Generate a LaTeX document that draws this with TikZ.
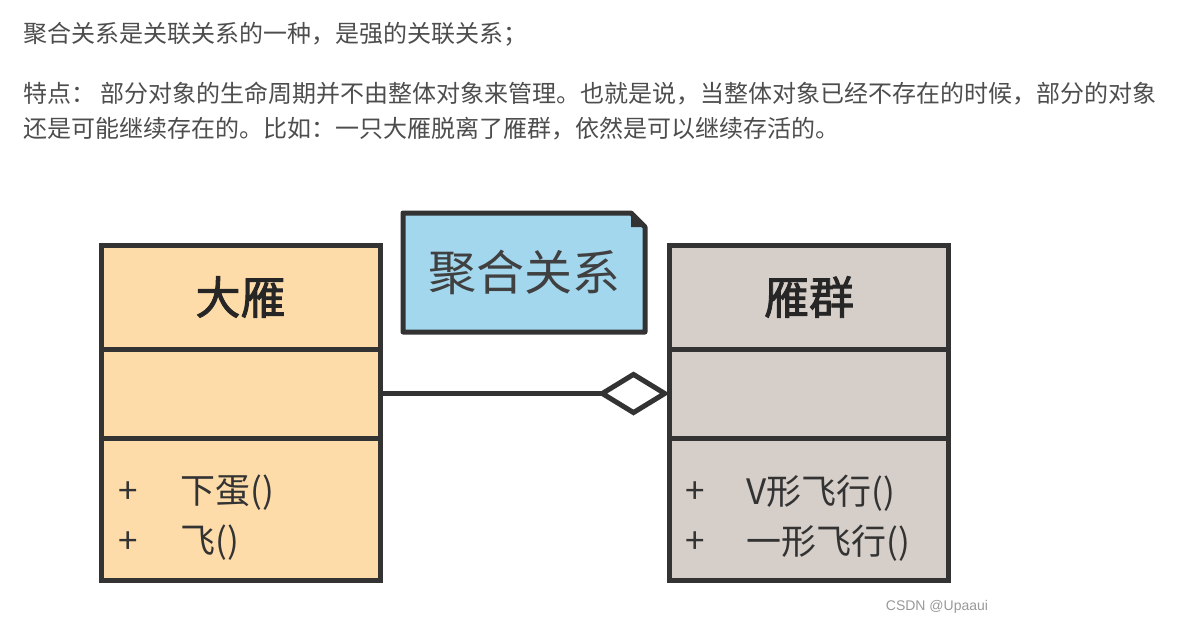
\documentclass[tikz,border=0pt]{standalone}
\usepackage{fontspec}
\newfontfamily\cjk{Noto Sans CJK SC}[AutoFakeBold=2]
\newfontfamily\wmfont{Liberation Sans}
\usetikzlibrary{positioning,arrows.meta}
\definecolor{goosefill}{HTML}{FEDCAA}
\definecolor{flockfill}{HTML}{D6CEC8}
\definecolor{notefill}{HTML}{A3D7EE}
\definecolor{umlline}{HTML}{333333}
\definecolor{bodytext}{HTML}{4D4D4D}
\begin{document}
\begin{tikzpicture}
[x=1pt,y=-1pt,
  textline/.style={anchor=west,inner sep=0pt,text=bodytext,font=\cjk\fontsize{24}{24}\selectfont},%
  boxpart/.style={draw=umlline,line width=5pt,minimum width=279pt,inner sep=0pt,outer sep=0pt},%
  namepart/.style={boxpart,minimum height=104pt,font=\cjk\bfseries\fontsize{45}{45}\selectfont,text=black!85},%
  attrpart/.style={boxpart,minimum height=89pt},%
  oppart/.style={boxpart,minimum height=142pt},%
  oplabel/.style={anchor=west,inner sep=0pt,text=black!80,font=\cjk\fontsize{35}{35}\selectfont},%
  notebox/.style={minimum width=242pt,minimum height=119pt,inner sep=0pt,outer sep=0pt,text=black!75,font=\cjk\fontsize{48}{48}\selectfont},%
  aggrline/.style={draw=umlline,line width=5pt,-{Diamond[open,length=72pt,width=44pt]}}]
\useasboundingbox (0,0) rectangle (1203,637);
%% text above the diagram
\foreach \linename/\y/\words in {
  lineone/34/{聚合关系是关联关系的一种，是强的关联关系；},
  linetwo/94/{特点：\ 部分对象的生命周期并不由整体对象来管理。也就是说，当整体对象已经不存在的时候，部分的对象},
  linethree/129/{还是可能继续存在的。比如：一只大雁脱离了雁群，依然是可以继续存活的。}}
{
  \node (\linename) at (23,\y) [textline] {\words};
}
%% classes
\node (dayan) at (240.5,297) [namepart,fill=goosefill] {大雁};
\node (dayanattr) [attrpart,fill=goosefill,below=0pt of dayan] {};
\node (dayanops) [oppart,fill=goosefill,below=0pt of dayanattr] {};
\node (yanqun) at (809,297) [namepart,fill=flockfill] {雁群};
\node (yanqunattr) [attrpart,fill=flockfill,below=0pt of yanqun] {};
\node (yanqunops) [oppart,fill=flockfill,below=0pt of yanqunattr] {};
%% operations
\foreach \row/\dy/\opname in {1/55/下蛋(), 2/105/飞()}
{
  \node (dayanplus\row) at ([xshift=17pt,yshift=-\dy pt]dayanops.north west) [oplabel] {+};
  \node (dayanop\row) at ([xshift=79pt,yshift=-\dy pt]dayanops.north west) [oplabel] {\opname};
}
\foreach \row/\dy/\opname in {1/55/V形飞行(), 2/105/一形飞行()}
{
  \node (yanqunplus\row) at ([xshift=16pt,yshift=-\dy pt]yanqunops.north west) [oplabel] {+};
  \node (yanqunop\row) at ([xshift=77pt,yshift=-\dy pt]yanqunops.north west) [oplabel] {\opname};
}
%% note
\node (note) at (524,272.5) [notebox] {};
\filldraw[fill=notefill,draw=umlline,line width=5pt,line join=round]
  (note.south west) -- (note.north west) -- ([xshift=-14pt]note.north east)
  -- ([yshift=-14pt]note.north east) -- (note.south east) -- cycle;
\fill[umlline] ([xshift=-14pt]note.north east) -- ([xshift=-14pt,yshift=-14pt]note.north east)
  -- ([yshift=-14pt]note.north east) -- cycle;
\node (notetext) at (note.center) [notebox] {聚合关系};
%% aggregation
\draw[aggrline] (dayanattr.east) -- (yanqunattr.west);
%% watermark
\node (mark) at (937,607) [text=black!40,font=\wmfont\fontsize{14}{14}\selectfont] {CSDN @Upaaui};
\end{tikzpicture}
\end{document}
